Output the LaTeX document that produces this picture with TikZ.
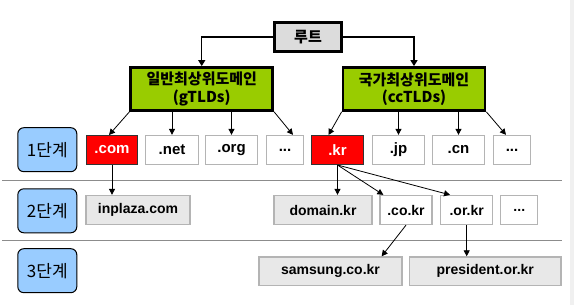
\documentclass[tikz,border=0pt]{standalone}
\usepackage{fontspec}
\setmainfont{Liberation Sans}
\newfontfamily\krfont{Noto Sans CJK KR}
\usepackage{xcolor}
\definecolor{rootgray}{HTML}{DCDCDC}
\definecolor{tldgreen}{HTML}{99CC00}
\definecolor{lvlblue}{HTML}{99CCFF}
\definecolor{hitred}{HTML}{FF0000}
\definecolor{boxline}{HTML}{B4B4B4}
\definecolor{subgray}{HTML}{E8E8E8}
\definecolor{rulegray}{HTML}{8C8C8C}
\definecolor{edgegray}{HTML}{F0F0F0}
\usetikzlibrary{arrows.meta,positioning}
\tikzset{
  level/.style   = {draw=black,line width=1pt,fill=lvlblue,rounded corners=6pt,
                     minimum width=59pt,minimum height=44pt,inner sep=0pt,
                     font=\krfont\fontsize{17}{19}\selectfont},
  rootbox/.style = {draw=black,line width=2.4pt,fill=rootgray,minimum width=67pt,
                     minimum height=29pt,inner sep=0pt,
                     font=\krfont\bfseries\fontsize{15}{17}\selectfont},
  tldbox/.style  = {draw=black,line width=2.8pt,fill=tldgreen,minimum width=142pt,
                     minimum height=43pt,inner sep=0pt,align=center,
                     font=\krfont\bfseries\fontsize{15}{17.5}\selectfont},
  dom/.style     = {draw=boxline,line width=1.3pt,fill=white,minimum height=29pt,
                     inner sep=0pt,font=\bfseries\fontsize{14}{16}\selectfont},
  hit/.style     = {dom,draw=black!80,line width=1pt,fill=hitred,text=white,
                     font=\bfseries\fontsize{15}{17}\selectfont},
  sub/.style     = {dom,fill=subgray},
  link/.style    = {-{Triangle[length=6pt,width=7pt]},line width=1.3pt},
  twig/.style    = {-{Triangle[length=6pt,width=6pt]},line width=0.8pt},
  rule/.style    = {draw=rulegray,line width=1pt},
}
\newcommand{\more}{...}

\begin{document}
\begin{tikzpicture}[x=1pt,y=-1pt]
  \fill[white] (0,0) rectangle (574,305);
  \fill[edgegray] (570,0) rectangle (574,305);
  \useasboundingbox (0,0) rectangle (574,305);
  % level labels and rules
  \foreach \n/\y in {1/149.7,2/210.8,3/270.7}
    \node[level] (lv\n) at (47.3,\y) {\n{}단계};
  \foreach \y in {180.3,240.3}
    \draw[rule] (2,\y) -- (562,\y);
  % root and top level domains
  \node[rootbox] (root) at (308,37) {루트};
  \node[tldbox] (gtld) at (201.75,89) {일반최상위도메인\\(gTLDs)};
  \node[tldbox] (cctld) at (414,89) {국가최상위도메인\\(ccTLDs)};
  % 1st level
  \node[hit,minimum width=51pt] (com) at (112,150) {.com};
  \node[hit,minimum width=52pt] (kr) at (337.5,150) {.kr};
  \foreach \nm/\lbl/\x/\w in {net/.net/172/53,org/.org/231.5/52,gdots/\more/285/37,
                              jp/.jp/398.5/52,cn/.cn/458.5/52,cdots/\more/512/37}
    \node[dom,minimum width=\w pt,font=\bfseries\fontsize{15}{17}\selectfont] (\nm) at (\x,150) {\lbl};
  % 2nd level
  \node[sub,minimum width=104pt] (inplaza) at (138,210) {inplaza.com};
  \node[sub,minimum width=98pt] (domain) at (323,210) {domain.kr};
  \node[dom,minimum width=52pt] (co) at (406,210) {.co.kr};
  \node[dom,minimum width=52pt] (or) at (466.7,210) {.or.kr};
  \node[dom,minimum width=37pt] (kdots) at (519.3,210) {\more};
  % 3rd level
  \node[sub,minimum width=143pt,minimum height=28.5pt] (samsung) at (330.5,271.2) {samsung.co.kr};
  \node[sub,minimum width=151.5pt,minimum height=28.5pt] (president) at (485.3,271.2) {president.or.kr};
  % arrows
  \draw[link] (root.west) -| (gtld.north);
  \draw[link] (root.east) -| (cctld.north);
  \draw[twig] (gtld.south west) -- ([xshift=-3pt]com.north);
  \draw[twig] (gtld.south -| net.north) -- (net.north);
  \draw[twig] (gtld.south -| org.north) -- (org.north);
  \draw[twig] (gtld.south east) -- ([xshift=8pt]gdots.north);
  \draw[twig] (cctld.south west) -- ([xshift=-9pt]kr.north);
  \draw[twig] (cctld.south -| jp.north) -- (jp.north);
  \draw[twig] (cctld.south -| cn.north) -- (cn.north);
  \draw[twig] (cctld.south east) -- ([xshift=-6pt]cdots.north);
  \draw[twig] (com.south) -- (com.south |- inplaza.north);
  \draw[twig] (kr.south) -- (kr.south |- domain.north);
  \draw[twig] (kr.south) -- ([xshift=4pt]co.north west);
  \draw[twig] (kr.south) -- ([xshift=10pt]or.north west);
  \draw[twig] (co.south) -- ([xshift=-21pt]samsung.north east);
  \draw[twig] (or.south) -- (or.south |- president.north);
\end{tikzpicture}
\end{document}
